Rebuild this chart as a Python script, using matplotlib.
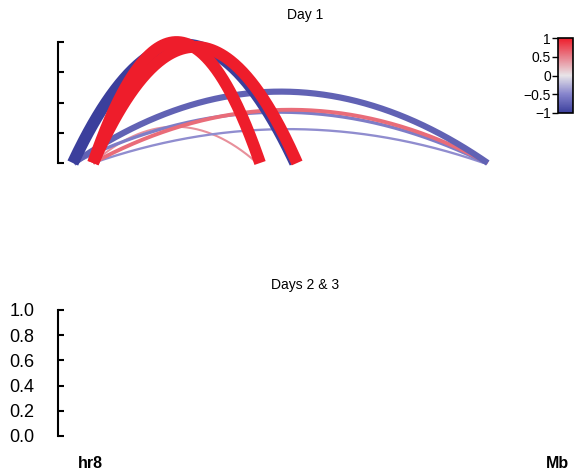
import numpy as np
import matplotlib
matplotlib.use("Agg")
import matplotlib.pyplot as plt
from matplotlib.colors import LinearSegmentedColormap, Normalize
from matplotlib.cm import ScalarMappable

plt.rcParams['font.family'] = ['Liberation Sans', 'DejaVu Sans']

# loops for day 1 (positions in arbitrary genomic units along the window)
starts = [3.0, 3.2, 3.2, 7.1, 7.1, 7.1, 7.1, 7.1]
ends = [48.0, 87.0, 86.6, 86.2, 40.3, 87.0, 48.4, 40.9]
heights = [0.98, 0.59, 0.42, 0.28, 0.30, 0.44, 0.96, 1.0]
scores = [-1.0, -0.75, -0.55, -0.45, 0.42, 0.6, 1.0, 1.0]

yticks_top = [0, 0.25, 0.5, 0.75, 1.0]
yticks_bottom = [0.0, 0.2, 0.4, 0.6, 0.8, 1.0]
cbar_ticks = [-1, -0.5, 0, 0.5, 1]

cmap = LinearSegmentedColormap.from_list(
    "bwr2", [(0, "#3b3f9c"), (0.25, "#8684cc"), (0.5, "#e8e4e8"),
             (0.75, "#e8808c"), (1, "#ee1d2b")])
norm = Normalize(-1, 1)

fig = plt.figure(figsize=(5.74, 4.75), dpi=100)

W, H = 574.0, 475.0
ax1 = fig.add_axes([58 / W, 1 - 163 / H, 494 / W, 121 / H])
ax2 = fig.add_axes([58 / W, 1 - 436 / H, 494 / W, 126 / H])

# draw loops, weakest first so strong ones sit on top
order = np.argsort(np.abs(scores), kind='stable')
for i in order:
    t = np.linspace(0, 1, 200)
    x = starts[i] + (ends[i] - starts[i]) * t
    y = heights[i] * 4 * t * (1 - t)
    lw = 0.6 + 7.9 * abs(scores[i]) ** 2.5
    ax1.plot(x, y, color=cmap(norm(scores[i])), lw=lw, solid_capstyle='butt',
             clip_on=False)

for ax in (ax1, ax2):
    ax.set_xlim(0, 100)
    ax.set_ylim(0, 1)
    for s in ['top', 'right', 'bottom']:
        ax.spines[s].set_visible(False)
    ax.spines['left'].set_linewidth(1.5)
    ax.set_xticks([])
    ax.tick_params(axis='y', direction='in', length=4, width=1.5, pad=17,
                   labelsize=13)

ax1.set_yticks(yticks_top)
ax1.set_yticklabels([])
ax2.set_yticks(yticks_bottom)
ax2.set_yticklabels(["%.1f" % v for v in yticks_bottom])

fig.text(305 / W, 1 - 15 / H, "Day 1", ha='center', va='center', fontsize=10)
fig.text(305 / W, 1 - 285 / H, "Days 2 & 3", ha='center', va='center', fontsize=10)

fig.text(90 / W, 1 - 463 / H, "hr8", ha='center', va='center', fontsize=11.5,
         fontweight='bold')
fig.text(557 / W, 1 - 463 / H, "Mb", ha='center', va='center', fontsize=11.5,
         fontweight='bold')

cax = fig.add_axes([558 / W, 1 - 113 / H, 15 / W, 75 / H])
cb = fig.colorbar(ScalarMappable(norm=norm, cmap=cmap), cax=cax, ticks=cbar_ticks)
cb.outline.set_linewidth(1.2)
cax.yaxis.set_ticks_position('left')
cax.tick_params(length=4, width=1, labelsize=10, pad=1)
cax.set_yticklabels(["\u22121", "\u22120.5", "0", "0.5", "1"])

fig.savefig("out.png", dpi=100)
